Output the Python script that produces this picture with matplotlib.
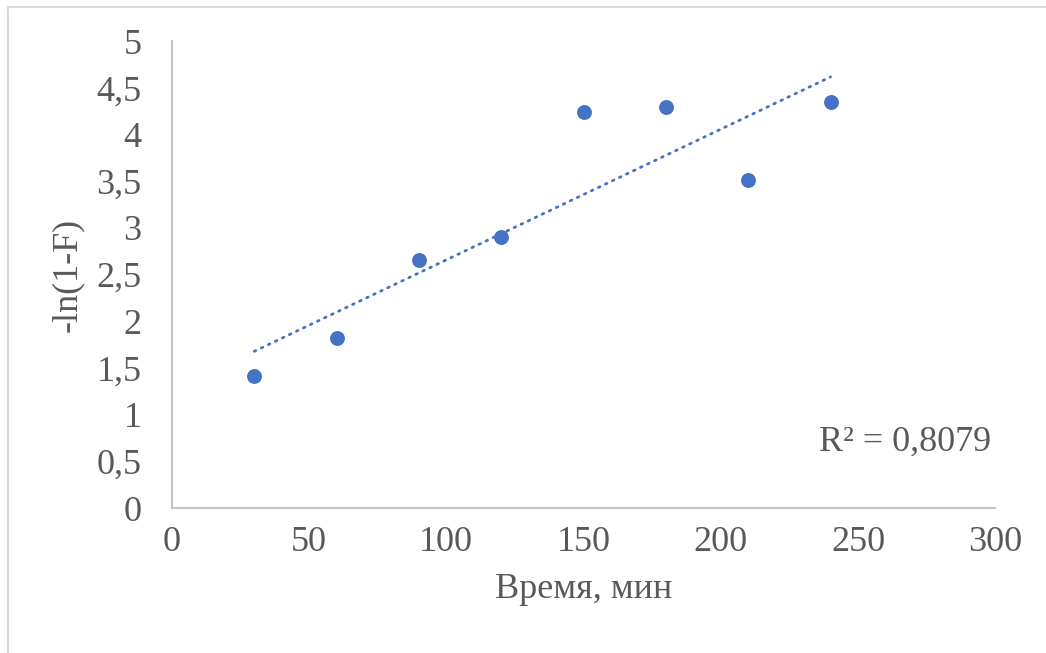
import numpy as np
import matplotlib.pyplot as plt
from matplotlib.lines import Line2D

# time, min
time_min = [30, 60, 90, 120, 150, 180, 210, 240]
# -ln(1-F)
ln_vals = [1.41, 1.82, 2.66, 2.90, 4.24, 4.29, 3.51, 4.35]
r2_text = "R² = 0,8079"
x_ticks = [0, 50, 100, 150, 200, 250, 300]
y_ticks = [0, 0.5, 1, 1.5, 2, 2.5, 3, 3.5, 4, 4.5, 5]

plt.rcParams['font.family'] = ['Liberation Serif', 'DejaVu Serif']
txt = '#595959'
blue = '#4472C4'

fig = plt.figure(figsize=(10.46, 6.53), dpi=100)
ax = fig.add_axes([0.1644, 0.222, 0.787, 0.715])

x = np.array(time_min)
y = np.array(ln_vals)
ax.scatter(x, y, s=115, color=blue, zorder=3, linewidths=0)

# linear trendline
k, b = np.polyfit(x, y, 1)
xs = np.array([x.min(), x.max()])
ax.plot(xs, k * xs + b, color=blue, lw=2.0, linestyle=(0, (0.6, 2.2)),
        dash_capstyle='round')

ax.set_xlim(0, 300)
ax.set_ylim(0, 5)
ax.set_xticks(x_ticks)
ax.set_yticks(y_ticks)
ax.set_xticklabels([str(v) for v in x_ticks])
ax.set_yticklabels([('%g' % v).replace('.', ',') for v in y_ticks])
ax.tick_params(length=0, labelsize=26, colors=txt, pad=13)
ax.tick_params(axis='y', pad=22)

for s in ['top', 'right']:
    ax.spines[s].set_visible(False)
for s in ['left', 'bottom']:
    ax.spines[s].set_color('#BFBFBF')
    ax.spines[s].set_linewidth(1.3)

ax.set_xlabel('Время, мин', fontsize=26, color=txt, labelpad=10)
ax.set_ylabel('-ln(1-F)', fontsize=26, color=txt, labelpad=9)

ax.text(0.995, 0.14, r2_text, transform=ax.transAxes, ha='right', va='center',
        fontsize=26, color=txt)

# chart frame: only top and left edges are visible
fig.add_artist(Line2D([0.008, 1.0], [0.989, 0.989], transform=fig.transFigure,
                      color='#D9D9D9', lw=1.5))
fig.add_artist(Line2D([0.008, 0.008], [0.0, 0.989], transform=fig.transFigure,
                      color='#D9D9D9', lw=1.5))

fig.savefig('out.png', dpi=100)
